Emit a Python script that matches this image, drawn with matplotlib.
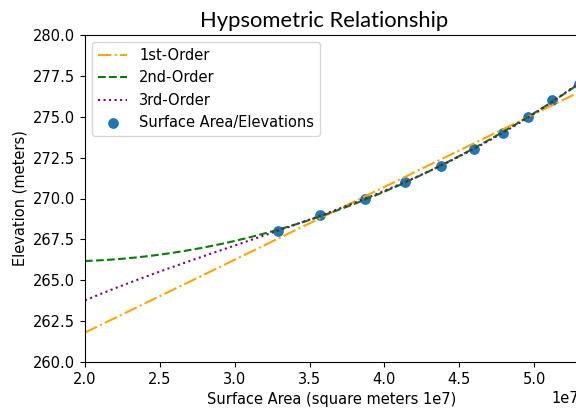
import numpy as np
import matplotlib.pyplot as plt

# surface area (m^2) vs. elevation (m)
area = np.array([3.29, 3.57, 3.87, 4.14, 4.38, 4.60, 4.79, 4.96, 5.12, 5.30]) * 1e7
elev = np.array([268, 269, 270, 271, 272, 273, 274, 275, 276, 277])

fit_labels = ['1st-Order', '2nd-Order', '3rd-Order']
fit_colors = ['orange', 'green', 'purple']
fit_styles = ['-.', '--', ':']

plt.rcParams['font.size'] = 10.5

# polynomial fits of the points, drawn from 2e7 up to the largest area
x_fit = np.linspace(2e7, area.max(), 200)

fig = plt.figure(figsize=(5.76, 4.12), dpi=100)
ax = fig.add_axes([85 / 576, 50 / 412, 494 / 576, 327 / 412])

for deg, (lab, col, ls) in enumerate(zip(fit_labels, fit_colors, fit_styles), start=1):
    coef = np.polyfit(area, elev, deg)
    ax.plot(x_fit, np.polyval(coef, x_fit), color=col, linestyle=ls, label=lab)

ax.scatter(area, elev, s=45, label='Surface Area/Elevations')

ax.set_xlim(2e7, area.max())
ax.set_ylim(260, 280)
ax.set_xlabel('Surface Area (square meters 1e7)')
ax.set_ylabel('Elevation (meters)')
ax.set_title('Hypsometric Relationship', family='Lato', fontsize=15.8, x=0.485)
ax.legend(loc='upper left')

fig.savefig('out.png', dpi=100)
